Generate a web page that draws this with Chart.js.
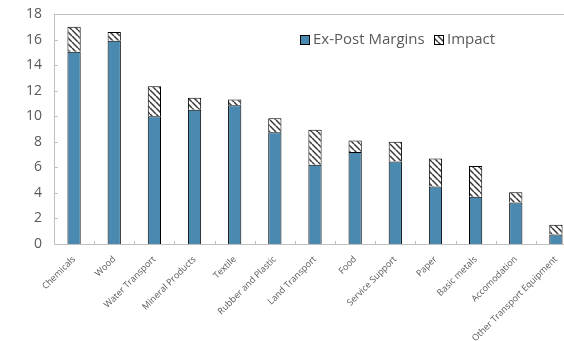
<!DOCTYPE html>
<html>
<head>
<meta charset="utf-8">
<script src="https://cdn.jsdelivr.net/npm/chart.js@4"></script>
<style>
  html, body { margin: 0; padding: 0; overflow: hidden; background: #fff; }
  #wrap { width: 576px; height: 341px; }
</style>
</head>
<body>
<div id="wrap"><canvas id="marginsChart" width="576" height="341"></canvas></div>
<script>
const categories = ['Chemicals', 'Wood', 'Water Transport', 'Mineral Products', 'Textile', 'Rubber and Plastic',
  'Land Transport', 'Food', 'Service Support', 'Paper', 'Basic metals', 'Accomodation', 'Other Transport Equipment'];
const exPostMargins = [15.05, 15.9, 10.0, 10.5, 10.85, 8.75, 6.2, 7.2, 6.45, 4.5, 3.7, 3.25, 0.75];
const impact = [1.95, 0.7, 2.35, 0.95, 0.45, 1.1, 2.75, 0.9, 1.55, 2.2, 2.4, 0.8, 0.75];
const yTicks = [0, 2, 4, 6, 8, 10, 12, 14, 16, 18];

const blue = '#4a8ab0';
const textGrey = '#595959';
const frameGrey = '#bfbfbf';

// diagonal hatch for the impact part
function makeHatch() {
  const s = 6;
  const c = document.createElement('canvas');
  c.width = s; c.height = s;
  const g = c.getContext('2d');
  g.fillStyle = '#fff';
  g.fillRect(0, 0, s, s);
  g.strokeStyle = '#3a3a3a';
  g.lineWidth = 1.5;
  g.beginPath();
  [-s, 0, s].forEach(k => { g.moveTo(k, 0); g.lineTo(k + s, s); });
  g.stroke();
  return g.createPattern(c, 'repeat');
}
const hatch = makeHatch();

const framePlugin = {
  id: 'frame',
  afterDatasetsDraw(chart) {
    const { ctx, chartArea: a, scales } = chart;
    ctx.save();
    ctx.strokeStyle = frameGrey;
    ctx.lineWidth = 1;
    ctx.strokeRect(Math.round(a.left) + 0.5, Math.round(a.top) + 0.5, a.right - a.left, a.bottom - a.top);
    // small inside tick marks
    ctx.beginPath();
    yTicks.forEach(v => {
      const y = Math.round(scales.y.getPixelForValue(v)) + 0.5;
      ctx.moveTo(a.left, y); ctx.lineTo(a.left + 4, y);
    });
    const step = scales.x.getPixelForValue(1) - scales.x.getPixelForValue(0);
    for (let i = 1; i <= categories.length; i++) {
      const x = Math.round(scales.x.getPixelForValue(i) - step / 2) + 0.5;
      ctx.moveTo(x, a.bottom); ctx.lineTo(x, a.bottom - 3);
    }
    ctx.stroke();

    // legend
    const items = [{ label: 'Ex-Post Margins', fill: blue, x: 300 }, { label: 'Impact', fill: hatch, x: 434 }];
    ctx.font = '15px "Open Sans"';
    ctx.textBaseline = 'middle';
    items.forEach(it => {
      ctx.fillStyle = it.fill;
      ctx.fillRect(it.x, 35, 9, 9);
      ctx.strokeStyle = '#000';
      ctx.strokeRect(it.x + 0.5, 35.5, 9, 9);
      ctx.fillStyle = textGrey;
      ctx.fillText(it.label, it.x + 13, 40);
    });
    ctx.restore();
  }
};

new Chart(document.getElementById('marginsChart').getContext('2d'), {
  type: 'bar',
  data: {
    labels: categories,
    datasets: [
      { label: 'Ex-Post Margins', data: exPostMargins, backgroundColor: blue, borderColor: '#000', borderWidth: 1 },
      { label: 'Impact', data: impact, backgroundColor: hatch, borderColor: '#000', borderWidth: 1 }
    ]
  },
  options: {
    responsive: false,
    animation: false,
    layout: { padding: { top: 14, right: 0, left: 0, bottom: 0 } },
    datasets: { bar: { barPercentage: 0.33, categoryPercentage: 1 } },
    plugins: { legend: { display: false }, tooltip: { enabled: false } },
    scales: {
      x: {
        stacked: true,
        grid: { display: false },
        border: { display: false },
        ticks: { color: textGrey, font: { family: 'Open Sans', size: 9 }, minRotation: 45, maxRotation: 45, padding: 2 },
        afterFit: axis => { axis.height = 97; }
      },
      y: {
        stacked: true,
        min: 0, max: 18,
        grid: { display: false, drawTicks: false },
        border: { display: false },
        afterBuildTicks: axis => { axis.ticks = yTicks.map(v => ({ value: v })); },
        ticks: { color: textGrey, font: { family: 'Open Sans', size: 14 }, padding: 12 },
        afterFit: axis => { axis.width = 54; axis.paddingTop = 0; axis.paddingBottom = 0; }
      }
    }
  },
  plugins: [framePlugin]
});
</script>
</body>
</html>
